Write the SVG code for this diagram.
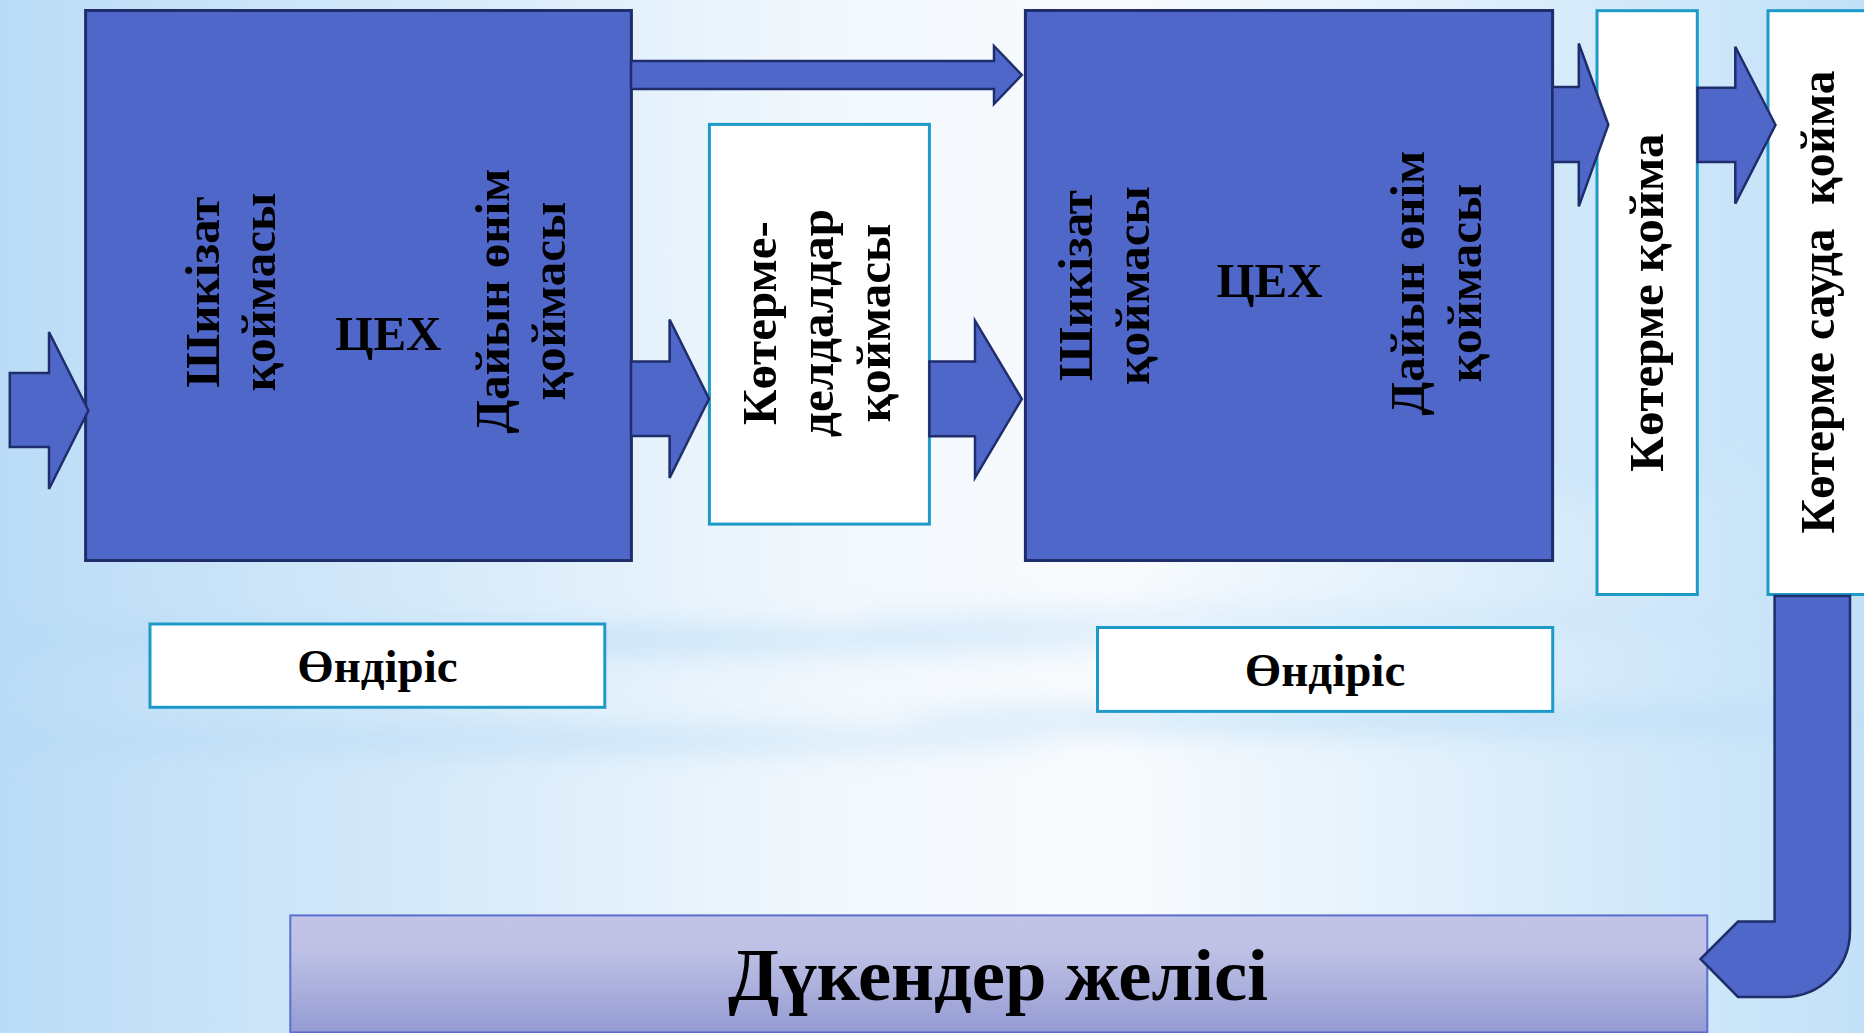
<svg xmlns="http://www.w3.org/2000/svg" width="1864" height="1033" viewBox="0 0 1864 1033">
<style>
.blue{fill:#4F67C9;stroke:#1F2D6B;stroke-width:3}
.white{fill:#FFFFFF;stroke:#1E9AC8;stroke-width:3}
.arrow{fill:#4F67C9;stroke:#1F2D6B;stroke-width:2.5;stroke-linejoin:miter}
.t{font-family:"Liberation Serif","Times New Roman",serif;font-weight:bold;fill:#000;font-size:49px}
</style>
<defs>
<linearGradient id="bg" x1="0" y1="0" x2="1" y2="0">
<stop offset="0" stop-color="#BADCF7"/>
<stop offset="0.2" stop-color="#D2E8F9"/>
<stop offset="0.45" stop-color="#F2F8FD"/>
<stop offset="0.6" stop-color="#F8FBFE"/>
<stop offset="0.8" stop-color="#DDEEFB"/>
<stop offset="1" stop-color="#C2E1F8"/>
</linearGradient>
<linearGradient id="shop" x1="0" y1="0" x2="0" y2="1">
<stop offset="0" stop-color="#C1C4E6"/>
<stop offset="0.3" stop-color="#BEC1E5"/>
<stop offset="1" stop-color="#949BD2"/>
</linearGradient>
<filter id="blur" x="-20%" y="-200%" width="140%" height="500%"><feGaussianBlur stdDeviation="14"/></filter>
</defs>
<rect x="0" y="0" width="1864" height="1033" fill="url(#bg)"/>
<g filter="url(#blur)" opacity="0.55">
<ellipse cx="500" cy="640" rx="650" ry="14" fill="#B4D9F6"/>
<ellipse cx="450" cy="740" rx="600" ry="12" fill="#B4D9F6"/>
<ellipse cx="1400" cy="720" rx="500" ry="14" fill="#B4D9F6"/>
<ellipse cx="1300" cy="620" rx="450" ry="10" fill="#C4E1F8"/>
<ellipse cx="1600" cy="300" rx="300" ry="200" fill="#C8E4F9"/>
</g>

<g id="box1">
<rect class="blue" x="85.6" y="10.5" width="545.8" height="550"/>
<text class="t" transform="translate(218.75,292) rotate(-90)" text-anchor="middle"><tspan x="0" y="0">Шикізат</tspan><tspan x="0" y="56">қоймасы</tspan></text>
<text class="t" x="388.4" y="350.2" text-anchor="middle">ЦЕХ</text>
<text class="t" transform="translate(509,301) rotate(-90)" text-anchor="middle"><tspan x="0" y="0">Дайын өнім</tspan><tspan x="0" y="56">қоймасы</tspan></text>
</g>

<g id="box2">
<rect class="white" x="709.4" y="124.4" width="220" height="399.7"/>
<text class="t" transform="translate(776,323) rotate(-90)" text-anchor="middle"><tspan x="0" y="0">Көтерме-</tspan><tspan x="0" y="57">делдалдар</tspan><tspan x="0" y="114">қоймасы</tspan></text>
</g>

<g id="box3">
<rect class="blue" x="1025.4" y="10.5" width="527.2" height="550"/>
<text class="t" transform="translate(1092,285.5) rotate(-90)" text-anchor="middle"><tspan x="0" y="0">Шикізат</tspan><tspan x="0" y="56.5">қоймасы</tspan></text>
<text class="t" x="1269.5" y="296.6" text-anchor="middle">ЦЕХ</text>
<text class="t" transform="translate(1424,283) rotate(-90)" text-anchor="middle"><tspan x="0" y="0">Дайын өнім</tspan><tspan x="0" y="56.5">қоймасы</tspan></text>
</g>

<g id="box4">
<rect class="white" x="1597" y="10.7" width="100.3" height="583.8"/>
<text class="t" transform="translate(1663,302.5) rotate(-90)" text-anchor="middle">Көтерме қойма</text>
</g>

<g id="box5">
<rect class="white" x="1768" y="10.7" width="120" height="583.8"/>
<text class="t" transform="translate(1834,302) rotate(-90)" text-anchor="middle" xml:space="preserve" style="white-space:pre" textLength="463" lengthAdjust="spacingAndGlyphs">Көтерме сауда  қойма</text>
</g>

<g id="prod1">
<rect class="white" x="150" y="624" width="454.8" height="83.3"/>
<text class="t" x="377.4" y="682" text-anchor="middle" style="font-size:47px">Өндіріс</text>
</g>

<g id="prod2">
<rect class="white" x="1097.5" y="627.5" width="455.2" height="83.9"/>
<text class="t" x="1325" y="685.5" text-anchor="middle" style="font-size:47px">Өндіріс</text>
</g>

<g id="shops">
<rect x="290.3" y="915.4" width="1417" height="117" fill="url(#shop)" stroke="#5B6FD0" stroke-width="2"/>
<text class="t" x="998" y="1000" text-anchor="middle" style="font-size:75px" textLength="540" lengthAdjust="spacingAndGlyphs">Дүкендер желісі</text>
</g>

<g id="connectors">
<path class="arrow" d="M9.8,373 H49 V332 L88.4,410.5 L49,489 V447 H9.8 Z"/>
<path class="arrow" d="M631,61 H994 V46 L1021.8,75 L994,104 V89 H631 Z"/>
<path class="arrow" d="M631,361.6 H669.6 V319.5 L709,398.8 L669.6,478 V436 H631 Z"/>
<path class="arrow" d="M929.4,361.6 H975 V320.7 L1021.8,399 L975,477.6 V436.3 H929.4 Z"/>
<path class="arrow" d="M1552.5,87 H1578.8 V43.5 L1608.3,124.8 L1578.8,206.4 V162 H1552.5 Z"/>
<path class="arrow" d="M1697.5,87.8 H1735.3 V46.7 L1775.5,125 L1735.3,203.6 V162 H1697.5 Z"/>
<path class="arrow" d="M1774.6,595.9 H1850 V931 A66,66 0 0 1 1784,997 H1738 L1700.5,959 L1738,921.5 H1774.6 Z"/>
</g>
</svg>
